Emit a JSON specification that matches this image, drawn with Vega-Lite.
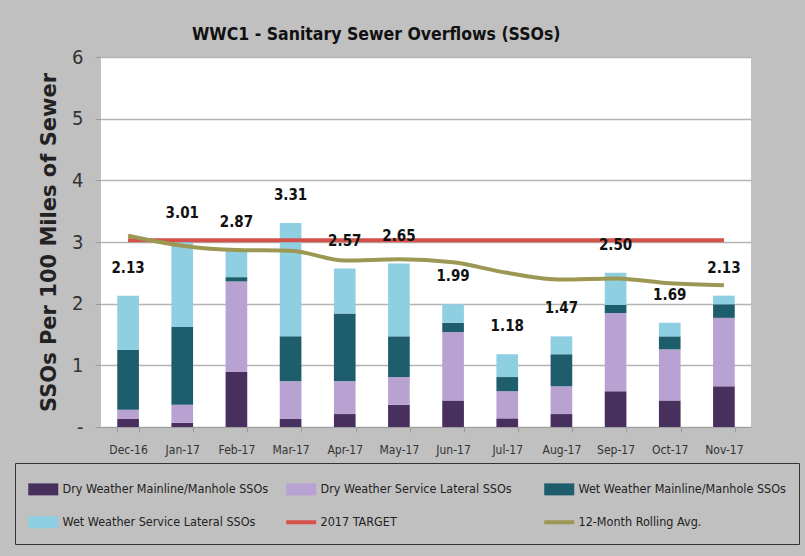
{
  "$schema": "https://vega.github.io/schema/vega-lite/v6.json",
  "width": 650,
  "height": 370,
  "autosize": "none",
  "padding": {"left": 101, "top": 57, "right": 54, "bottom": 129},
  "background": "#c0c0c0",
  "title": {
    "text": "WWC1 - Sanitary Sewer Overflows (SSOs)",
    "font": "DejaVu Sans Condensed",
    "fontSize": 17.5,
    "fontWeight": "bold",
    "color": "#111111",
    "anchor": "start",
    "frame": "group",
    "dx": 91,
    "offset": 4
  },
  "datasets": {
    "bars": [
      {"month": "Dec-16", "type": "Dry Weather Mainline/Manhole SSOs", "value": 0.13},
      {"month": "Dec-16", "type": "Dry Weather Service Lateral SSOs", "value": 0.15},
      {"month": "Dec-16", "type": "Wet Weather Mainline/Manhole SSOs", "value": 0.97},
      {"month": "Dec-16", "type": "Wet Weather Service Lateral SSOs", "value": 0.88},
      {"month": "Jan-17", "type": "Dry Weather Mainline/Manhole SSOs", "value": 0.07},
      {"month": "Jan-17", "type": "Dry Weather Service Lateral SSOs", "value": 0.29},
      {"month": "Jan-17", "type": "Wet Weather Mainline/Manhole SSOs", "value": 1.26},
      {"month": "Jan-17", "type": "Wet Weather Service Lateral SSOs", "value": 1.39},
      {"month": "Feb-17", "type": "Dry Weather Mainline/Manhole SSOs", "value": 0.89},
      {"month": "Feb-17", "type": "Dry Weather Service Lateral SSOs", "value": 1.47},
      {"month": "Feb-17", "type": "Wet Weather Mainline/Manhole SSOs", "value": 0.07},
      {"month": "Feb-17", "type": "Wet Weather Service Lateral SSOs", "value": 0.44},
      {"month": "Mar-17", "type": "Dry Weather Mainline/Manhole SSOs", "value": 0.13},
      {"month": "Mar-17", "type": "Dry Weather Service Lateral SSOs", "value": 0.61},
      {"month": "Mar-17", "type": "Wet Weather Mainline/Manhole SSOs", "value": 0.73},
      {"month": "Mar-17", "type": "Wet Weather Service Lateral SSOs", "value": 1.84},
      {"month": "Apr-17", "type": "Dry Weather Mainline/Manhole SSOs", "value": 0.21},
      {"month": "Apr-17", "type": "Dry Weather Service Lateral SSOs", "value": 0.53},
      {"month": "Apr-17", "type": "Wet Weather Mainline/Manhole SSOs", "value": 1.10},
      {"month": "Apr-17", "type": "Wet Weather Service Lateral SSOs", "value": 0.73},
      {"month": "May-17", "type": "Dry Weather Mainline/Manhole SSOs", "value": 0.36},
      {"month": "May-17", "type": "Dry Weather Service Lateral SSOs", "value": 0.45},
      {"month": "May-17", "type": "Wet Weather Mainline/Manhole SSOs", "value": 0.66},
      {"month": "May-17", "type": "Wet Weather Service Lateral SSOs", "value": 1.18},
      {"month": "Jun-17", "type": "Dry Weather Mainline/Manhole SSOs", "value": 0.43},
      {"month": "Jun-17", "type": "Dry Weather Service Lateral SSOs", "value": 1.11},
      {"month": "Jun-17", "type": "Wet Weather Mainline/Manhole SSOs", "value": 0.15},
      {"month": "Jun-17", "type": "Wet Weather Service Lateral SSOs", "value": 0.30},
      {"month": "Jul-17", "type": "Dry Weather Mainline/Manhole SSOs", "value": 0.14},
      {"month": "Jul-17", "type": "Dry Weather Service Lateral SSOs", "value": 0.44},
      {"month": "Jul-17", "type": "Wet Weather Mainline/Manhole SSOs", "value": 0.23},
      {"month": "Jul-17", "type": "Wet Weather Service Lateral SSOs", "value": 0.37},
      {"month": "Aug-17", "type": "Dry Weather Mainline/Manhole SSOs", "value": 0.21},
      {"month": "Aug-17", "type": "Dry Weather Service Lateral SSOs", "value": 0.45},
      {"month": "Aug-17", "type": "Wet Weather Mainline/Manhole SSOs", "value": 0.52},
      {"month": "Aug-17", "type": "Wet Weather Service Lateral SSOs", "value": 0.29},
      {"month": "Sep-17", "type": "Dry Weather Mainline/Manhole SSOs", "value": 0.58},
      {"month": "Sep-17", "type": "Dry Weather Service Lateral SSOs", "value": 1.27},
      {"month": "Sep-17", "type": "Wet Weather Mainline/Manhole SSOs", "value": 0.13},
      {"month": "Sep-17", "type": "Wet Weather Service Lateral SSOs", "value": 0.52},
      {"month": "Oct-17", "type": "Dry Weather Mainline/Manhole SSOs", "value": 0.43},
      {"month": "Oct-17", "type": "Dry Weather Service Lateral SSOs", "value": 0.83},
      {"month": "Oct-17", "type": "Wet Weather Mainline/Manhole SSOs", "value": 0.21},
      {"month": "Oct-17", "type": "Wet Weather Service Lateral SSOs", "value": 0.22},
      {"month": "Nov-17", "type": "Dry Weather Mainline/Manhole SSOs", "value": 0.66},
      {"month": "Nov-17", "type": "Dry Weather Service Lateral SSOs", "value": 1.11},
      {"month": "Nov-17", "type": "Wet Weather Mainline/Manhole SSOs", "value": 0.22},
      {"month": "Nov-17", "type": "Wet Weather Service Lateral SSOs", "value": 0.14}
    ],
    "monthly": [
      {"month": "Dec-16", "total": 2.13, "target": 3.03, "rolling": 3.10},
      {"month": "Jan-17", "total": 3.01, "target": 3.03, "rolling": 2.94},
      {"month": "Feb-17", "total": 2.87, "target": 3.03, "rolling": 2.87},
      {"month": "Mar-17", "total": 3.31, "target": 3.03, "rolling": 2.86},
      {"month": "Apr-17", "total": 2.57, "target": 3.03, "rolling": 2.70},
      {"month": "May-17", "total": 2.65, "target": 3.03, "rolling": 2.72},
      {"month": "Jun-17", "total": 1.99, "target": 3.03, "rolling": 2.67},
      {"month": "Jul-17", "total": 1.18, "target": 3.03, "rolling": 2.50},
      {"month": "Aug-17", "total": 1.47, "target": 3.03, "rolling": 2.39},
      {"month": "Sep-17", "total": 2.50, "target": 3.03, "rolling": 2.41},
      {"month": "Oct-17", "total": 1.69, "target": 3.03, "rolling": 2.33},
      {"month": "Nov-17", "total": 2.13, "target": 3.03, "rolling": 2.30}
    ]
  },
  "config": {
    "view": {"fill": "#ffffff", "stroke": null},
    "axis": {"labelColor": "#333333", "tickColor": "#9a9a9a", "domainColor": "#a0a0a0"}
  },
  "encoding": {
    "x": {
      "field": "month",
      "type": "nominal",
      "sort": null,
      "scale": {"paddingInner": 0.6, "paddingOuter": 0.3},
      "axis": {
        "title": null,
        "labelAngle": 0,
        "labelFont": "DejaVu Sans Condensed",
        "labelFontSize": 12,
        "labelPadding": 12,
        "tickBand": "extent",
        "tickSize": 5,
        "domainColor": "#a0a0a0"
      }
    }
  },
  "layer": [
    {
      "data": {"name": "bars"},
      "mark": {"type": "bar"},
      "encoding": {
        "y": {
          "field": "value",
          "type": "quantitative",
          "stack": "zero",
          "scale": {"domain": [0, 6], "nice": false},
          "axis": {
            "values": [0, 1, 2, 3, 4, 5, 6],
            "labelExpr": "datum.value == 0 ? '-' : format(datum.value, 'd')",
            "title": "SSOs Per 100  Miles of Sewer",
            "titleFont": "DejaVu Sans",
            "titleFontSize": 21,
            "titleFontWeight": "bold",
            "titleColor": "#222222",
            "titlePadding": 12,
            "labelFont": "DejaVu Sans Condensed",
            "labelFontSize": 20,
            "labelPadding": 12,
            "tickSize": 6,
            "domain": false,
            "grid": true,
            "gridColor": "#b4b4b4",
            "gridWidth": 1.5
          }
        },
        "order": {"field": "type", "sort": "ascending"},
        "color": {
          "field": "type",
          "type": "nominal",
          "scale": {
            "domain": ["Dry Weather Mainline/Manhole SSOs", "Dry Weather Service Lateral SSOs", "Wet Weather Mainline/Manhole SSOs", "Wet Weather Service Lateral SSOs", "2017 TARGET", "12-Month Rolling Avg."],
            "range": ["#48305e", "#b7a2d2", "#1e5d6b", "#8ecfe2", "#d4514a", "#9c9853"]
          },
          "legend": {
            "orient": "none",
            "legendX": -86,
            "legendY": 406,
            "direction": "horizontal",
            "columns": 3,
            "title": " ",
            "titleFontSize": 6,
            "titlePadding": 0,
            "fillColor": "#c0c0c0",
            "strokeColor": "#333333",
            "padding": 13,
            "gridAlign": "all",
            "columnPadding": 8,
            "rowPadding": 17,
            "labelFont": "DejaVu Sans Condensed",
            "labelFontSize": 12.5,
            "labelColor": "#222222",
            "labelLimit": 400,
            "labelOffset": 13,
            "symbolOffset": 9,
            "symbolSize": 900,
            "symbolType": "M-1,-0.4H1V0.4H-1Z",
            "encode": {
              "symbols": {
                "update": {
                  "shape": {"signal": "(datum.value == '2017 TARGET' || datum.value == '12-Month Rolling Avg.') ? 'M-1,0H1' : 'M-1,-0.4H1V0.4H-1Z'"},
                  "fill": {"signal": "(datum.value == '2017 TARGET' || datum.value == '12-Month Rolling Avg.') ? 'transparent' : scale('color', datum.value)"},
                  "stroke": {"signal": "scale('color', datum.value)"},
                  "strokeWidth": {"signal": "(datum.value == '2017 TARGET' || datum.value == '12-Month Rolling Avg.') ? 4 : 0"},
                  "opacity": {"value": 1}
                }
              }
            }
          }
        }
      }
    },
    {
      "data": {"name": "monthly"},
      "mark": {"type": "line", "strokeWidth": 4},
      "encoding": {
        "y": {"field": "target", "type": "quantitative"},
        "color": {"datum": "2017 TARGET"}
      }
    },
    {
      "data": {"name": "monthly"},
      "mark": {"type": "line", "strokeWidth": 4, "interpolate": "monotone"},
      "encoding": {
        "y": {"field": "rolling", "type": "quantitative"},
        "color": {"datum": "12-Month Rolling Avg."}
      }
    },
    {
      "data": {"name": "monthly"},
      "mark": {"type": "text", "font": "DejaVu Sans Condensed", "fontSize": 15, "fontWeight": "bold", "color": "#111111", "baseline": "middle", "dy": -28},
      "encoding": {
        "y": {"field": "total", "type": "quantitative"},
        "text": {"field": "total", "type": "quantitative", "format": ".2f"}
      }
    }
  ]
}
